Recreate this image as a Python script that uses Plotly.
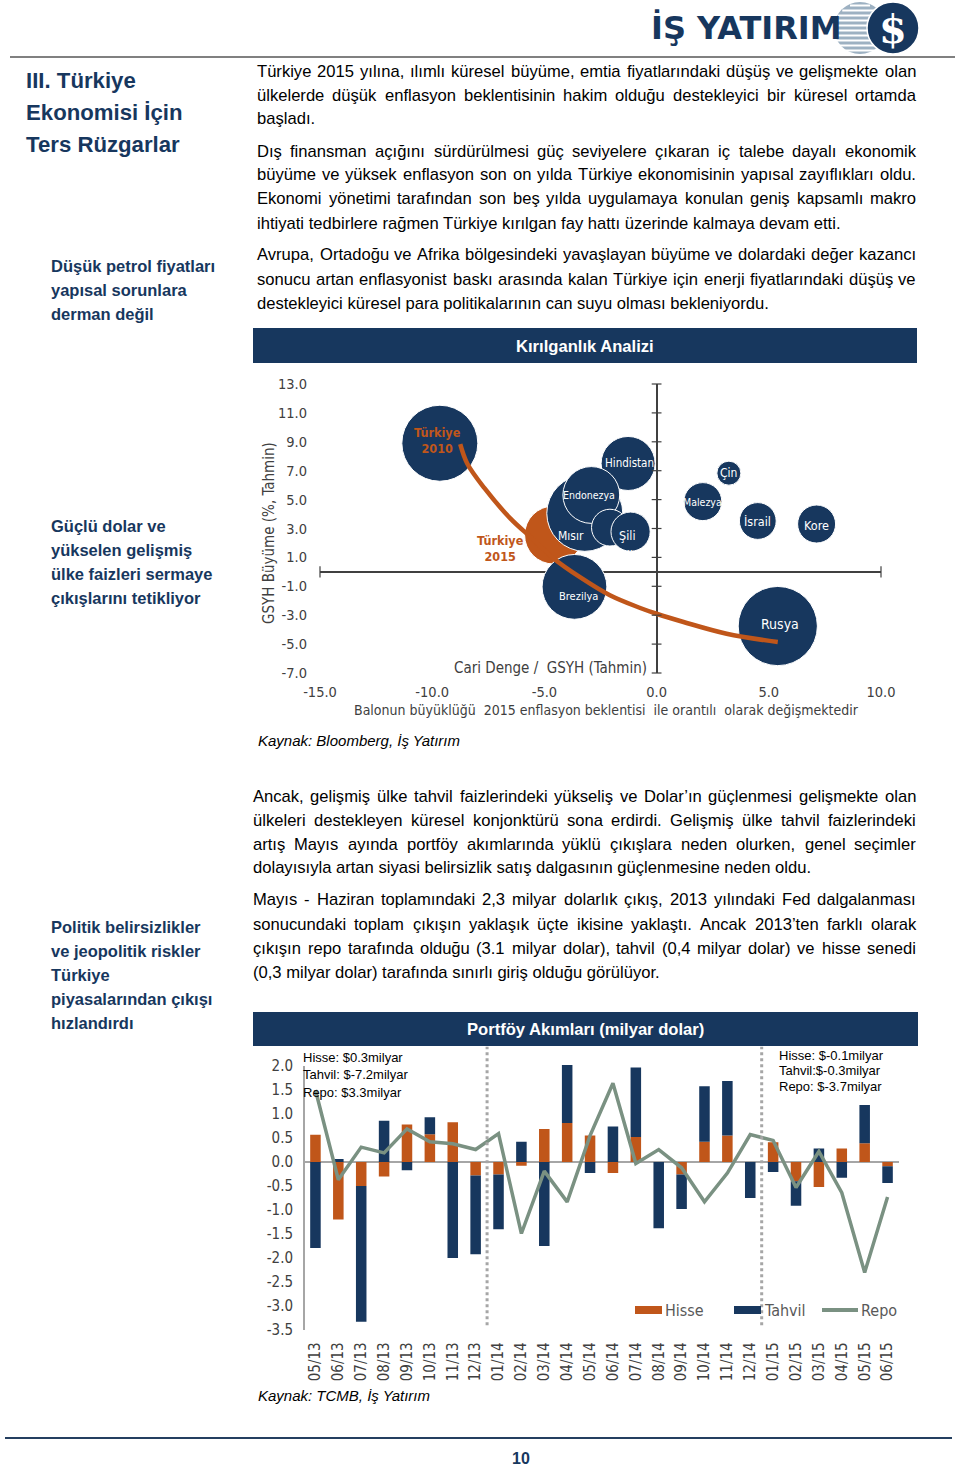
import math
import plotly.graph_objects as go

W, H = 960, 1468
def px(x): return x / W
def py(y): return 1 - y / H

NAVY = "#17375E"
ORANGE = "#C0561A"
REPO_C = "#7A9182"
AX = "#404040"
NARROW = "Liberation Sans Narrow, Arial Narrow, DejaVu Sans Condensed, Liberation Sans, sans-serif"
SANS = "Liberation Sans, Arial, sans-serif"

# ---------------- Bubble chart data (Kırılganlık Analizi) ----------------
ulkeler = ["Türkiye 2010", "Hindistan", "Çin", "Malezya", "İsrail", "Kore",
           "Türkiye 2015", "Mısır", "Endonezya", "Meksika", "Şili", "Brezilya", "Rusya"]
cari_denge = [-9.66, -1.27, 3.22, 2.06, 4.51, 7.13, -4.59, -3.2, -2.91, -2.08, -1.16, -3.66, 5.4]
gsyh_buyume = [8.9, 7.5, 6.83, 4.86, 3.52, 3.31, 2.55, 4.05, 5.32, 3.06, 2.78, -1.04, -3.75]
enflasyon = [9.5, 6.75, 3.0, 4.75, 4.6, 4.75, 7.25, 9.5, 7.1, 4.6, 4.9, 8.1, 9.9]
egri_x = [-8.75, -8.44, -7.67, -6.52, -5.55, -4.59, -3.43, -2.08, -0.73, 0.0, 1.2, 3.12, 5.4]
egri_y = [8.84, 7.5, 5.79, 3.70, 2.31, 0.93, -0.35, -1.62, -2.5, -2.9, -3.47, -4.28, -4.86]
bx_ticks = [-15, -10, -5, 0, 5, 10]
by_ticks = [-7, -5, -3, -1, 1, 3, 5, 7, 9, 11, 13]

# ---------------- Bar chart data (Portföy Akımları) ----------------
aylar = ["05/13", "06/13", "07/13", "08/13", "09/13", "10/13", "11/13", "12/13",
         "01/14", "02/14", "03/14", "04/14", "05/14", "06/14", "07/14", "08/14",
         "09/14", "10/14", "11/14", "12/14", "01/15", "02/15", "03/15", "04/15",
         "05/15", "06/15"]
hisse = [0.57, -1.2, -0.5, -0.3, 0.78, 0.58, 0.83, -0.28, -0.26, -0.08, 0.69, 0.81, 0.55,
         -0.23, 0.52, 0.0, -0.26, 0.42, 0.55, 0.0, 0.41, -0.4, -0.52, 0.28, 0.39, -0.09]
tahvil = [-1.79, 0.06, -2.83, 0.86, -0.17, 0.35, -2.0, -1.64, -1.14, 0.42, -1.75, 1.21, -0.23,
          0.74, 1.45, -1.38, -0.72, 1.16, 1.14, -0.75, -0.21, -0.51, 0.28, -0.33, 0.8, -0.35]
repo = [1.5, -0.37, 0.31, 0.19, 0.69, 0.42, 0.38, 0.26, 0.59, -1.49, -0.19, -0.83, 0.55,
        1.64, -0.03, 0.26, -0.12, -0.83, -0.23, 0.57, 0.45, -0.53, 0.22, -0.64, -2.3, -0.73]
ay_ticks = [2.0, 1.5, 1.0, 0.5, 0.0, -0.5, -1.0, -1.5, -2.0, -2.5, -3.0, -3.5]
donem_ayrac = [7.5, 19.5]
seri_adlari = ["Hisse", "Tahvil", "Repo"]

# ---------------- Page text ----------------
p1 = ["Türkiye 2015 yılına, ılımlı küresel büyüme, emtia fiyatlarındaki düşüş ve gelişmekte olan",
      "ülkelerde düşük enflasyon beklentisinin hakim olduğu destekleyici bir küresel ortamda",
      "başladı."]
p2 = ["Dış finansman açığını sürdürülmesi güç seviyelere çıkaran iç talebe dayalı ekonomik",
      "büyüme ve yüksek enflasyon son on yılda Türkiye ekonomisinin yapısal zayıflıkları oldu.",
      "Ekonomi yönetimi tarafından son beş yılda uygulamaya konulan geniş kapsamlı makro",
      "ihtiyati tedbirlere rağmen Türkiye kırılgan fay hattı üzerinde kalmaya devam etti."]
p3 = ["Avrupa, Ortadoğu ve Afrika bölgesindeki yavaşlayan büyüme ve dolardaki değer kazancı",
      "sonucu artan enflasyonist baskı arasında kalan Türkiye için enerji fiyatlarındaki düşüş ve",
      "destekleyici küresel para politikalarının can suyu olması bekleniyordu."]
p4 = ["Ancak, gelişmiş ülke tahvil faizlerindeki yükseliş ve Dolar’ın güçlenmesi gelişmekte olan",
      "ülkeleri destekleyen küresel konjonktürü sona erdirdi. Gelişmiş ülke tahvil faizlerindeki",
      "artış Mayıs ayında portföy akımlarında yüklü çıkışlara neden olurken, genel seçimler",
      "dolayısıyla artan siyasi belirsizlik satış dalgasının güçlenmesine neden oldu."]
p5 = ["Mayıs - Haziran toplamındaki 2,3 milyar dolarlık çıkış, 2013 yılındaki Fed dalgalanması",
      "sonucundaki toplam çıkışın yaklaşık üçte ikisine yaklaştı. Ancak 2013’ten farklı olarak",
      "çıkışın repo tarafında olduğu (3.1 milyar dolar), tahvil (0,4 milyar dolar) ve hisse senedi",
      "(0,3 milyar dolar) tarafında sınırlı giriş olduğu görülüyor."]
baslik = ["III. Türkiye", "Ekonomisi İçin", "Ters Rüzgarlar"]
not1 = ["Düşük petrol fiyatları", "yapısal sorunlara", "derman değil"]
not2 = ["Güçlü dolar ve", "yükselen gelişmiş", "ülke faizleri sermaye", "çıkışlarını tetikliyor"]
not3 = ["Politik belirsizlikler", "ve jeopolitik riskler", "Türkiye", "piyasalarından çıkışı", "hızlandırdı"]
sol_ozet = ["Hisse: $0.3milyar", "Tahvil: $-7.2milyar", "Repo: $3.3milyar"]
sag_ozet = ["Hisse: $-0.1milyar", "Tahvil:$-0.3milyar", "Repo: $-3.7milyar"]

# Arial / Liberation Sans advance widths (1/1000 em)
WID = {" ": 278, ",": 278, ".": 278, "-": 333, "(": 333, ")": 333, "’": 222, "'": 191,
       "A": 667, "B": 667, "C": 722, "D": 722, "E": 667, "F": 611, "G": 778, "H": 722,
       "I": 278, "J": 500, "K": 667, "L": 556, "M": 833, "N": 722, "O": 778, "P": 667,
       "R": 722, "S": 667, "T": 611, "U": 722, "V": 667, "Y": 667, "Z": 611,
       "a": 556, "b": 556, "c": 500, "d": 556, "e": 556, "f": 278, "g": 556, "h": 556,
       "i": 222, "j": 222, "k": 500, "l": 222, "m": 833, "n": 556, "o": 556, "p": 556,
       "q": 556, "r": 333, "s": 500, "t": 278, "u": 556, "v": 500, "w": 722, "x": 500,
       "y": 500, "z": 500, "ç": 500, "ğ": 556, "ı": 278, "ö": 556, "ş": 500, "ü": 556,
       "Ç": 722, "İ": 278, "Ö": 778, "Ş": 667, "Ü": 722}

def tw(s, fs):
    return sum(WID.get(c, 556) for c in s) * fs / 1000.0

annotations = []
shapes = []

def txt(x, y, s, size, color="#000000", family=SANS, anchor="left", bold=False, italic=False, textangle=0):
    t = s
    if bold:
        t = "<b>" + t + "</b>"
    if italic:
        t = "<i>" + t + "</i>"
    annotations.append(dict(x=px(x), y=py(y), xref="paper", yref="paper", text=t,
                            showarrow=False, xanchor=anchor, yanchor="middle",
                            font=dict(size=size, color=color, family=family),
                            borderpad=0, borderwidth=0, textangle=textangle))

def paragraph(lines, x0, x1, y0, fs=16.6, lh=24):
    for i, line in enumerate(lines):
        y = y0 + i * lh
        words = line.split(" ")
        if i == len(lines) - 1:
            txt(x0, y, line, fs)
            continue
        tot = sum(tw(w, fs) for w in words)
        gap = (x1 - x0 - tot) / (len(words) - 1)
        x = x0
        for w in words:
            txt(x, y, w, fs)
            x += tw(w, fs) + gap

def rect(x0, y0, x1, y1, fill):
    shapes.append(dict(type="rect", xref="paper", yref="paper", x0=px(x0), x1=px(x1),
                       y0=py(y1), y1=py(y0), fillcolor=fill, line=dict(width=0)))

def hline(x0, x1, y, color, width):
    shapes.append(dict(type="line", xref="paper", yref="paper", x0=px(x0), x1=px(x1),
                       y0=py(y), y1=py(y), line=dict(color=color, width=width)))

# ---------------- Header / logo ----------------
hline(10, 955, 57, "#808080", 2)
cx, cy, r = 860, 28, 26
shapes.append(dict(type="circle", xref="paper", yref="paper", x0=px(cx - r), x1=px(cx + r),
                   y0=py(cy + r), y1=py(cy - r), fillcolor="#9DB1C2", line=dict(width=0)))
for dy in range(-24, 25, 5):
    half = math.sqrt(max(r * r - dy * dy, 0))
    hline(cx - half, cx + half, cy + dy + 1.5, "white", 2)
cx2, r2 = 893, 26
shapes.append(dict(type="circle", xref="paper", yref="paper", x0=px(cx2 - r2), x1=px(cx2 + r2),
                   y0=py(cy + r2), y1=py(cy - r2), fillcolor=NAVY, line=dict(color="white", width=1.5)))
txt(893, 29, "$", 40, "white", family="DejaVu Serif, Liberation Serif", anchor="center", bold=True)
txt(651, 28, "İŞ YATIRIM", 32, NAVY, family="DejaVu Sans, Liberation Sans", bold=True)

# ---------------- Left column ----------------
for i, s in enumerate(baslik):
    txt(26, 80 + 32 * i, s, 22.2, NAVY, bold=True)
for i, s in enumerate(not1):
    txt(51, 266 + 24 * i, s, 16.5, NAVY, bold=True)
for i, s in enumerate(not2):
    txt(51, 526 + 24 * i, s, 16.5, NAVY, bold=True)
for i, s in enumerate(not3):
    txt(51, 927 + 24 * i, s, 16.5, NAVY, bold=True)

# ---------------- Body text ----------------
paragraph(p1, 257, 916, 71)
paragraph(p2, 257, 916, 151)
paragraph(p3, 257, 916, 255)
paragraph(p4, 253, 916, 796)
paragraph(p5, 253, 916, 900)

# ---------------- Chart header bars ----------------
rect(253, 328, 917, 363, NAVY)
txt(585, 346, "Kırılganlık Analizi", 16.6, "white", anchor="center", bold=True)
rect(253, 1012, 918, 1046, NAVY)
txt(585, 1029, "Portföy Akımları (milyar dolar)", 16.6, "white", anchor="center", bold=True)

txt(258, 740, "Kaynak: Bloomberg, İş Yatırım", 15, "#000000", italic=True)
txt(258, 1395, "Kaynak: TCMB, İş Yatırım", 15, "#000000", italic=True)

hline(5, 952, 1438, "#243F60", 2)
txt(521, 1458, "10", 16, NAVY, anchor="center", bold=True)

# ---------------- Bubble chart ----------------
fig = go.Figure()
renk = [ORANGE if u == "Türkiye 2015" else NAVY for u in ulkeler]
fig.add_trace(go.Scatter(x=cari_denge, y=gsyh_buyume, mode="markers", showlegend=False,
                         hoverinfo="text", text=ulkeler,
                         marker=dict(size=enflasyon, sizemode="diameter", sizeref=1 / 8.0,
                                     color=renk, opacity=1, line=dict(color="white", width=1)),
                         xaxis="x", yaxis="y"))
fig.add_trace(go.Scatter(x=egri_x, y=egri_y, mode="lines", showlegend=False, hoverinfo="skip",
                         line=dict(color=ORANGE, width=4.5, shape="spline", smoothing=1.0),
                         xaxis="x", yaxis="y"))
fig.add_trace(go.Scatter(x=[0] * len(by_ticks), y=by_ticks, mode="markers", showlegend=False,
                         hoverinfo="skip", cliponaxis=False,
                         marker=dict(symbol="line-ew", size=7, line=dict(color=AX, width=1.2)),
                         xaxis="x", yaxis="y"))
fig.add_trace(go.Scatter(x=[bx_ticks[0], bx_ticks[-1]], y=[0, 0], mode="markers", showlegend=False,
                         hoverinfo="skip", cliponaxis=False,
                         marker=dict(symbol="line-ns", size=8, line=dict(color=AX, width=1.2)),
                         xaxis="x", yaxis="y"))

# label styles: (text, color, size, xshift, yshift)
etiket = {
    "Türkiye 2010": ("<b>Türkiye<br>2010</b>", ORANGE, 12.5, -2, 3),
    "Hindistan": ("Hindistan", "white", 11.5, 1, 0),
    "Çin": ("Çin", "white", 12, 0, 0),
    "Malezya": ("Malezya", "white", 10.5, 0, 0),
    "İsrail": ("İsrail", "white", 12.5, 0, -1),
    "Kore": ("Kore", "white", 12.5, 0, -1),
    "Türkiye 2015": ("<b>Türkiye<br>2015</b>", ORANGE, 12.5, -53, -13),
    "Mısır": ("Mısır", "white", 12, -14, -23),
    "Endonezya": ("Endonezya", "white", 10.5, -2, 0),
    "Meksika": ("Meksika", "white", 12, 11, -28),
    "Şili": ("Şili", "white", 12.5, -3, -4),
    "Brezilya": ("Brezilya", "white", 11, 4, -10),
    "Rusya": ("Rusya", "white", 14, 2, 2),
}
for u, xv, yv in zip(ulkeler, cari_denge, gsyh_buyume):
    t, c, s, dx, dy = etiket[u]
    annotations.append(dict(x=xv, y=yv, xref="x", yref="y", text=t, showarrow=False,
                            xshift=dx, yshift=dy, font=dict(size=s, color=c, family=NARROW),
                            xanchor="center", yanchor="middle"))

txt(269, 533, "GSYH Büyüme (%, Tahmin)", 15, AX, family=NARROW, anchor="center", textangle=-90)
txt(647, 668, "Cari Denge /  GSYH (Tahmin)", 15, AX, family=NARROW, anchor="right")
txt(606, 710, "Balonun büyüklüğü  2015 enflasyon beklentisi  ile orantılı  olarak değişmektedir",
    14, AX, family=NARROW, anchor="center")

# ---------------- Bar chart ----------------
idx = list(range(len(aylar)))
fig.add_trace(go.Bar(x=idx, y=hisse, name=seri_adlari[0], marker=dict(color=ORANGE, line=dict(width=0)),
                     width=0.46, xaxis="x2", yaxis="y2", showlegend=False))
fig.add_trace(go.Bar(x=idx, y=tahvil, name=seri_adlari[1], marker=dict(color=NAVY, line=dict(width=0)),
                     width=0.46, xaxis="x2", yaxis="y2", showlegend=False))
fig.add_trace(go.Scatter(x=idx, y=repo, name=seri_adlari[2], mode="lines", showlegend=False,
                         line=dict(color=REPO_C, width=3.5), xaxis="x2", yaxis="y2"))

shapes.append(dict(type="line", xref="x2 domain", yref="y2", x0=0, x1=0,
                   y0=ay_ticks[-1], y1=ay_ticks[0], line=dict(color="#A6A6A6", width=2)))
for xv in donem_ayrac:
    shapes.append(dict(type="line", xref="x2", yref="y2", x0=xv, x1=xv, y0=-3.4, y1=2.4,
                       line=dict(color="#A6A6A6", width=3, dash="dot")))

# legend (drawn manually for wide swatches)
leg_x = [635, 734, 822]
rect(leg_x[0], 1306, leg_x[0] + 27, 1314, ORANGE)
rect(leg_x[1], 1306, leg_x[1] + 27, 1314, NAVY)
shapes.append(dict(type="line", xref="paper", yref="paper", x0=px(leg_x[2]), x1=px(leg_x[2] + 36),
                   y0=py(1310), y1=py(1310), line=dict(color=REPO_C, width=4)))
txt(leg_x[0] + 30, 1310, seri_adlari[0], 16, "#595959", family=NARROW)
txt(leg_x[1] + 30, 1310, seri_adlari[1], 16, "#595959", family=NARROW)
txt(leg_x[2] + 39, 1310, seri_adlari[2], 16, "#595959", family=NARROW)

for i, s in enumerate(sol_ozet):
    txt(303, 1057 + 17.5 * i, s, 13, "#000000")
for i, s in enumerate(sag_ozet):
    txt(779, 1055 + 15.5 * i, s, 13, "#000000")

fig.update_layout(
    width=W, height=H, margin=dict(l=0, r=0, t=0, b=0, autoexpand=False),
    paper_bgcolor="white", plot_bgcolor="rgba(0,0,0,0)",
    barmode="relative", bargap=0.5,
    showlegend=False,
    xaxis=dict(domain=[px(320), px(881)], range=[-15, 10], anchor="y",
               tickvals=bx_ticks, ticktext=[f"{v:.1f}" for v in bx_ticks],
               showgrid=False, showline=False, ticks="", zeroline=True,
               zerolinecolor=AX, zerolinewidth=1.5, ticklabelstandoff=8,
               tickfont=dict(family=NARROW, size=14.5, color=AX), fixedrange=True),
    yaxis=dict(domain=[py(673), py(384)], range=[-7, 13], anchor="x",
               tickvals=by_ticks, ticktext=[f"{v:.1f}" for v in by_ticks],
               showgrid=False, showline=False, ticks="", zeroline=True,
               zerolinecolor=AX, zerolinewidth=1.5, ticklabelstandoff=12,
               tickfont=dict(family=NARROW, size=14.5, color=AX), fixedrange=True),
    xaxis2=dict(domain=[px(304), px(899)], range=[-0.5, 25.5], anchor="y2",
                tickvals=idx, ticktext=aylar, tickangle=-90,
                showgrid=False, showline=False, ticks="", zeroline=False,
                ticklabelstandoff=6, tickfont=dict(family=NARROW, size=15, color=AX)),
    yaxis2=dict(domain=[py(1332.4), py(1044.4)], range=[-3.55, 2.45], anchor="x2",
                tickvals=ay_ticks, ticktext=[f"{v:.1f}" for v in ay_ticks],
                showgrid=False, showline=False, ticks="", zeroline=True,
                zerolinecolor="#A6A6A6", zerolinewidth=2, ticklabelstandoff=10,
                tickfont=dict(family=NARROW, size=15, color=AX)),
    annotations=annotations, shapes=shapes,
)

fig.write_html("out.html", config={"displayModeBar": False},
               post_script="document.body.style.margin='0';document.body.style.overflow='hidden';")
